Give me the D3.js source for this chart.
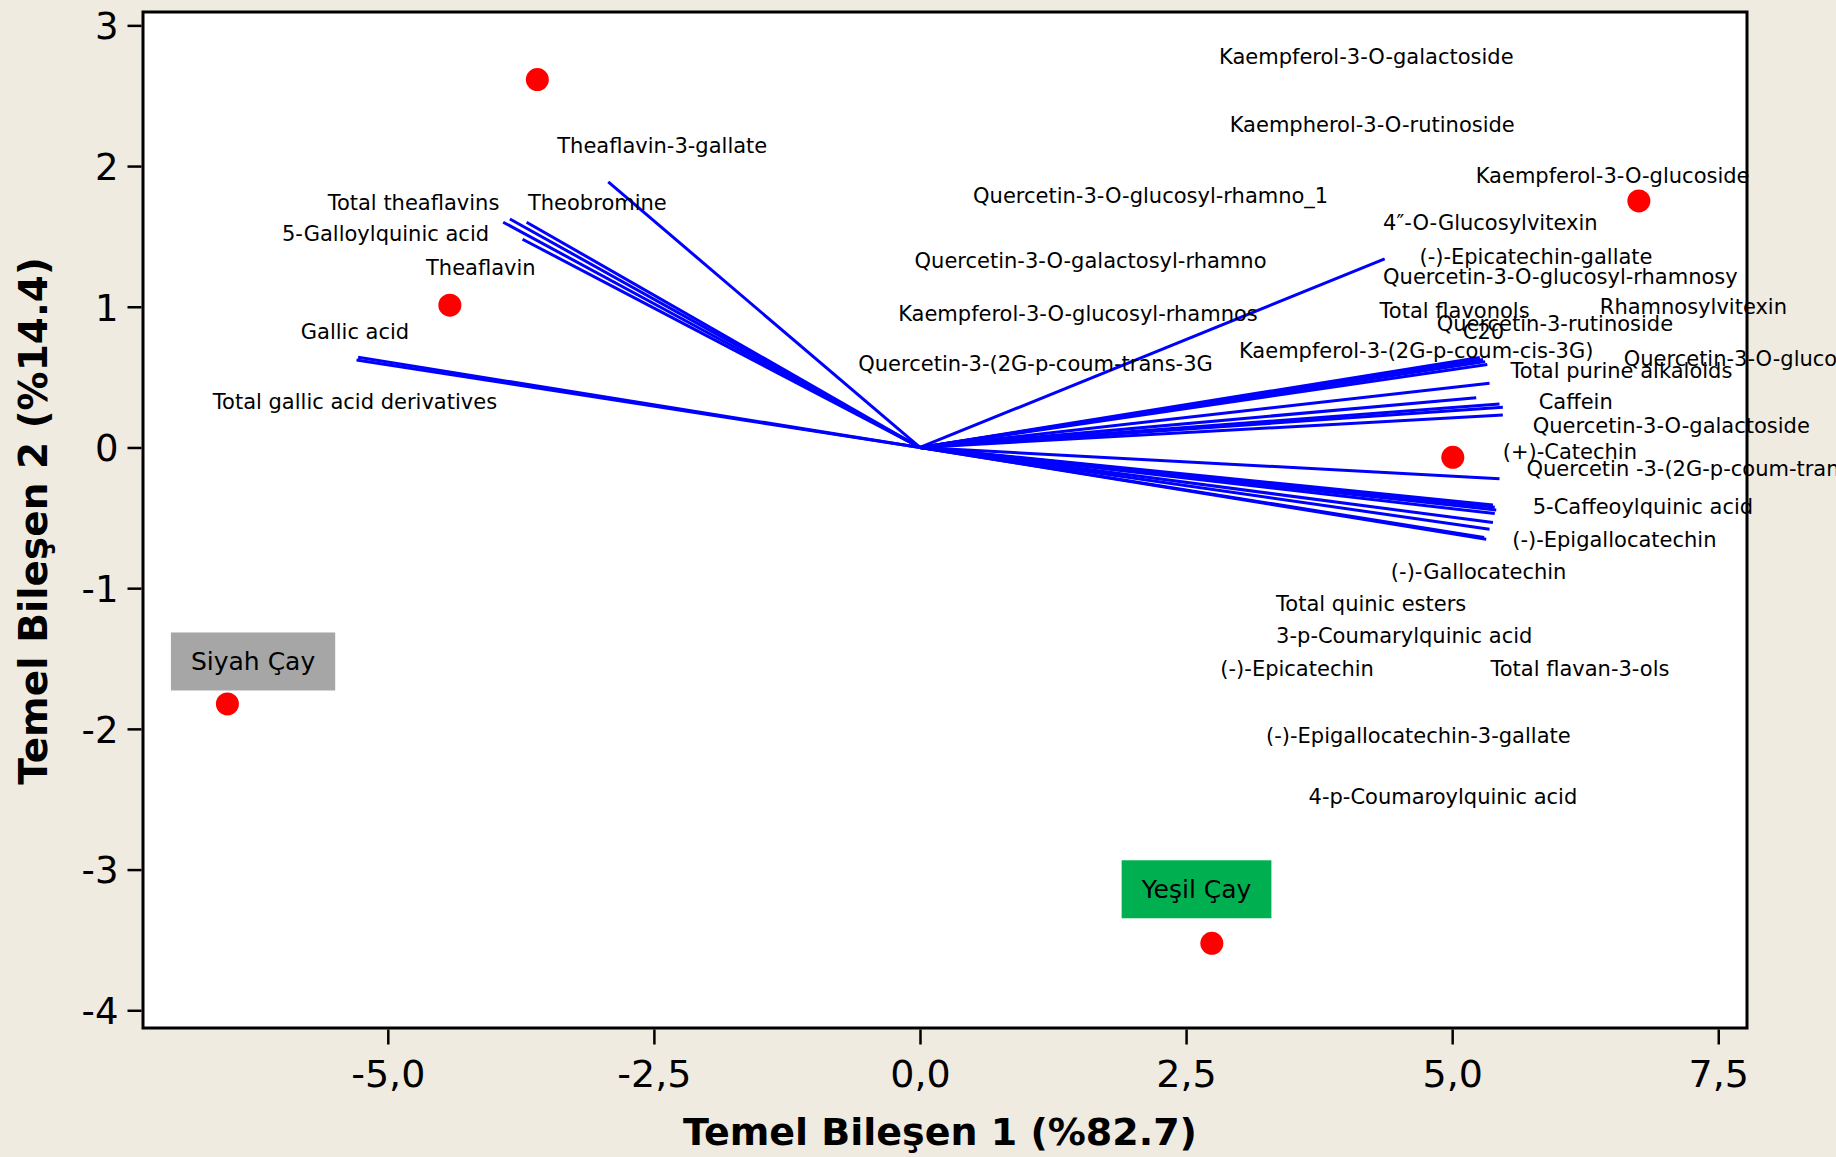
<!DOCTYPE html>
<html>
<head>
<meta charset="utf-8">
<script src="https://cdn.jsdelivr.net/npm/d3@7"></script>
<style>
  html, body { margin: 0; padding: 0; background: #EFEBE0; }
  svg { display: block; }
  text { font-family: "DejaVu Sans", Verdana, sans-serif; }
</style>
</head>
<body>
<svg id="chart" width="1836" height="1157"></svg>
<script>
// ---------------- DATA (in PCA score / loading units) ----------------
// Sample scores (red points)
const pointX = [-3.595, -4.417, 6.754, 5.006, -6.507, 2.742];
const pointY = [2.615, 1.011, 1.752, -0.070, -1.823, -3.524];

// Loading vectors (end points, drawn from origin)
const vectorX = [-5.294, -5.279, -3.916, -3.853, -3.696, -3.734, -2.929,
                 4.366, 5.26, 5.29, 5.31, 5.33, 5.351, 5.226, 5.445, 5.476, 5.476, 5.445,
                 5.383, 5.40, 5.414, 5.40, 5.383, 5.351, 5.32, 5.30];
const vectorY = [0.622, 0.641, 1.601, 1.624, 1.601, 1.480, 1.887,
                 1.340, 0.640, 0.625, 0.610, 0.590, 0.456, 0.354, 0.309, 0.286, 0.231, -0.222,
                 -0.409, -0.425, -0.444, -0.470, -0.534, -0.581, -0.652, -0.640];

// Variable labels and their anchor positions (data units, left edge / middle)
const labelText = [
  "Kaempferol-3-O-galactoside", "Kaempherol-3-O-rutinoside", "Kaempferol-3-O-glucoside",
  "Quercetin-3-O-glucosyl-rhamno_1", "4\u2033-O-Glucosylvitexin", "(-)-Epicatechin-gallate",
  "Quercetin-3-O-galactosyl-rhamno", "Quercetin-3-O-glucosyl-rhamnosy", "Total flavonols",
  "Kaempferol-3-O-glucosyl-rhamnos", "Rhamnosylvitexin", "Quercetin-3-rutinoside", "C20",
  "Kaempferol-3-(2G-p-coum-cis-3G)", "Quercetin-3-O-glucoside", "Quercetin-3-(2G-p-coum-trans-3G",
  "Total purine alkaloids", "Caffein", "Total gallic acid derivatives", "Quercetin-3-O-galactoside",
  "(+)-Catechin", "Quercetin -3-(2G-p-coum-trans-3G", "5-Caffeoylquinic acid", "(-)-Epigallocatechin",
  "(-)-Gallocatechin", "Total quinic esters", "3-p-Coumarylquinic acid", "(-)-Epicatechin",
  "Total flavan-3-ols", "(-)-Epigallocatechin-3-gallate", "4-p-Coumaroylquinic acid",
  "Theaflavin-3-gallate", "Total theaflavins", "Theobromine", "5-Galloylquinic acid",
  "Theaflavin", "Gallic acid"
];
const labelX = [
  2.810, 2.910, 5.221,
  0.499, 4.351, 4.693,
  -0.051, 4.351, 4.318,
  -0.205, 6.387, 4.854, 5.100,
  2.997, 6.612, -0.580,
  5.548, 5.813, -6.644, 5.757,
  5.475, 5.698, 5.757, 5.564,
  4.424, 3.346, 3.346, 2.822,
  5.360, 3.251, 3.651,
  -3.408, -5.565, -3.683, -5.994,
  -4.641, -5.818
];
const labelY = [
  2.781, 2.298, 1.932,
  1.791, 1.598, 1.356,
  1.331, 1.213, 0.977,
  0.955, 1.000, 0.883, 0.823,
  0.692, 0.634, 0.600,
  0.550, 0.326, 0.326, 0.160,
  -0.030, -0.149, -0.421, -0.657,
  -0.880, -1.107, -1.333, -1.569,
  -1.569, -2.044, -2.482,
  2.149, 1.741, 1.741, 1.524,
  1.283, 0.825
];

// Group boxes (sample names)
const groupText = ["Siyah Çay", "Yeşil Çay"];
const groupX = [-6.266, 2.598];
const groupY = [-1.521, -3.140];
const groupColor = ["#A6A6A6", "#00B050"];

// Axis ticks
const xTicks = [-5, -2.5, 0, 2.5, 5, 7.5];
const yTicks = [-4, -3, -2, -1, 0, 1, 2, 3];
const xTitle = "Temel Bileşen 1 (%82.7)";
const yTitle = "Temel Bileşen 2 (%14.4)";

// ---------------- DRAWING ----------------
(function () {
const svg = d3.select("#chart");
const W = 1836, H = 1157;
const mL = 143, mR = 1747, mT = 12, mB = 1028;

const x = d3.scaleLinear().domain([-7.3, 7.77]).range([mL, mR]);
const y = d3.scaleLinear().domain([-4.126, 3.095]).range([mB, mT]);

svg.append("rect").attr("x", 0).attr("y", 0).attr("width", W).attr("height", H).attr("fill", "#EFEBE0");
svg.append("rect").attr("x", mL).attr("y", mT).attr("width", mR - mL).attr("height", mB - mT).attr("fill", "#FFFFFF");

// loading vectors
svg.append("g").selectAll("line").data(vectorX.map((v, i) => [v, vectorY[i]])).join("line")
  .attr("x1", x(0)).attr("y1", y(0))
  .attr("x2", d => x(d[0])).attr("y2", d => y(d[1]))
  .attr("stroke", "#0000FF").attr("stroke-width", 3);

// variable labels
svg.append("g").selectAll("text").data(labelText).join("text")
  .attr("x", (d, i) => x(labelX[i])).attr("y", (d, i) => y(labelY[i]))
  .attr("dy", "0.36em")
  .attr("font-size", 21).attr("fill", "#000")
  .text(d => d);

// group boxes
const gb = svg.append("g");
groupText.forEach((t, i) => {
  const g = gb.append("g");
  const txt = g.append("text")
    .attr("x", x(groupX[i])).attr("y", y(groupY[i])).attr("dy", "0.36em")
    .attr("text-anchor", "middle").attr("font-size", 25).attr("fill", "#000").text(t);
  const w = txt.node().getComputedTextLength();
  g.insert("rect", "text")
    .attr("x", x(groupX[i]) - w / 2 - 20).attr("y", y(groupY[i]) - 29)
    .attr("width", w + 40).attr("height", 58)
    .attr("fill", groupColor[i]);
});

// points
svg.append("g").selectAll("circle").data(pointX.map((v, i) => [v, pointY[i]])).join("circle")
  .attr("cx", d => x(d[0])).attr("cy", d => y(d[1])).attr("r", 11.5)
  .attr("fill", "#FF0000");

// frame
svg.append("rect").attr("x", mL).attr("y", mT).attr("width", mR - mL).attr("height", mB - mT)
  .attr("fill", "none").attr("stroke", "#000").attr("stroke-width", 3);

// x axis
const fmt = d => d3.format(".1f")(d).replace(".", ",").replace("\u2212", "-");
const xa = svg.append("g").attr("transform", `translate(0,${mB + 1.5})`)
  .call(d3.axisBottom(x).tickValues(xTicks).tickSize(15).tickFormat(fmt));
xa.select(".domain").remove();
xa.selectAll(".tick line").attr("stroke", "#000").attr("stroke-width", 2.5);
xa.selectAll(".tick text").attr("y", 57).attr("dy", 0)
  .attr("font-size", 38).attr("fill", "#000").attr("font-family", "DejaVu Sans");

// y axis
const ya = svg.append("g").attr("transform", `translate(${mL - 1.5},0)`)
  .call(d3.axisLeft(y).tickValues(yTicks).tickSize(14).tickFormat(d => String(d)));
ya.select(".domain").remove();
ya.selectAll(".tick line").attr("stroke", "#000").attr("stroke-width", 2.5);
ya.selectAll(".tick text").attr("x", -23).attr("dy", "0.36em")
  .attr("font-size", 37).attr("fill", "#000").attr("font-family", "DejaVu Sans");

// titles
svg.append("text").attr("x", 940).attr("y", 1145).attr("text-anchor", "middle")
  .attr("font-size", 38).attr("font-weight", "bold").attr("fill", "#000").text(xTitle);
svg.append("text").attr("transform", "translate(47,521) rotate(-90)").attr("text-anchor", "middle")
  .attr("font-size", 39).attr("font-weight", "bold").attr("fill", "#000").text(yTitle);
})();
</script>
</body>
</html>
